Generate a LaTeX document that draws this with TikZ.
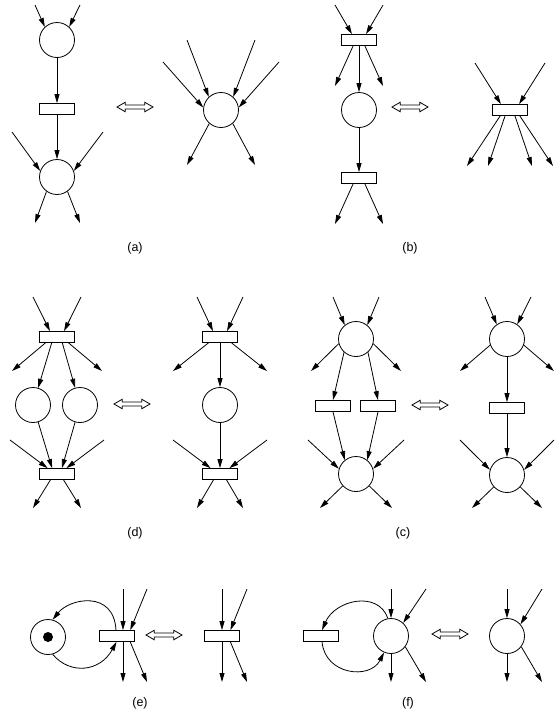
\documentclass[tikz,border=0pt]{standalone}
\usepackage{fontspec}
\setmainfont{Liberation Sans}
\usetikzlibrary{arrows.meta,shapes.arrows}

\begin{document}
\begin{tikzpicture}[x=1pt,y=-1pt,
  place/.style={circle, draw, line width=0.8pt, minimum size=35pt, inner sep=0pt},
  trans/.style={rectangle, draw, line width=0.8pt, minimum width=35pt, minimum height=11pt, inner sep=0pt},
  arc/.style={-{Triangle[length=9pt,width=5pt]}, line width=0.8pt},
  equiv/.style={double arrow, draw, line width=0.8pt, minimum height=36pt, minimum width=9pt, inner sep=1.6pt, double arrow head extend=2.8pt, double arrow tip angle=60},
  lbl/.style={font=\fontsize{12.5}{15}\selectfont}]
\useasboundingbox (0,0) rectangle (555,713);

% (a)
\node[place] (pa1) at (57,40){};
\node[trans] (ta1) at (57,109){};
\node[place] (pa2) at (57,177){};
\coordinate (ia1) at (35,5);
\coordinate (ia2) at (80,5);
\coordinate (ia3) at (12,132);
\coordinate (ia4) at (103,132);
\coordinate (oa1) at (35,223);
\coordinate (oa2) at (80,223);
\draw[arc](ia1) -- (pa1.133);
\draw[arc](ia2) -- (pa1.47);
\draw[arc](pa1) -- (ta1);
\draw[arc](ta1) -- (pa2);
\draw[arc](ia3) -- (pa2.160);
\draw[arc](ia4) -- (pa2.20);
\draw[arc](pa2.234) -- (oa1);
\draw[arc](pa2.-54) -- (oa2);
\node[equiv] (ea) at (135,107){};
\node[place] (pa3) at (221,110){};
\coordinate (ia5) at (187,40);
\coordinate (ia6) at (255,40);
\coordinate (ia7) at (163,62);
\coordinate (ia8) at (279,62);
\coordinate (oa3) at (187,165);
\coordinate (oa4) at (255,165);
\draw[arc](ia5) -- (pa3.133);
\draw[arc](ia6) -- (pa3.47);
\draw[arc](ia7) -- (pa3.172);
\draw[arc](ia8) -- (pa3.8);
\draw[arc](pa3.229) -- (oa3);
\draw[arc](pa3.311) -- (oa4);
\node[lbl] (la) at (135,248){(a)};

% (b)
\node[trans] (tb1) at (359,40){};
\node[place] (pb1) at (359,110){};
\node[trans] (tb2) at (359,178){};
\coordinate (ib1) at (335,5);
\coordinate (ib2) at (383,5);
\coordinate (ob1) at (335,86);
\coordinate (ob2) at (383,86);
\coordinate (ob3) at (335,224);
\coordinate (ob4) at (383,224);
\draw[arc](ib1) -- (tb1.140);
\draw[arc](ib2) -- (tb1.40);
\draw[arc](tb1.225) -- (ob1);
\draw[arc](tb1) -- (pb1);
\draw[arc](tb1.-45) -- (ob2);
\draw[arc](pb1) -- (tb2);
\draw[arc](tb2.225) -- (ob3);
\draw[arc](tb2.-45) -- (ob4);
\node[equiv] (eb) at (410,107){};
\node[trans] (tb3) at (510,110){};
\coordinate (ib3) at (475,63);
\coordinate (ib4) at (545,63);
\coordinate (ob5) at (467,166);
\coordinate (ob6) at (488,166);
\coordinate (ob7) at (532,166);
\coordinate (ob8) at (553,166);
\draw[arc](ib3) -- (tb3.147);
\draw[arc](ib4) -- (tb3.33);
\draw[arc](tb3.211) -- (ob5);
\draw[arc](tb3.230) -- (ob6);
\draw[arc](tb3.310) -- (ob7);
\draw[arc](tb3.329) -- (ob8);
\node[lbl] (lb) at (410,248){(b)};

% (d)
\node[trans] (td1) at (57,337){};
\node[place] (pd1) at (33,405){};
\node[place] (pd2) at (80,405){};
\node[trans] (td2) at (57,474){};
\coordinate (id1) at (33,297);
\coordinate (id2) at (81,297);
\coordinate (id3) at (10,440);
\coordinate (id4) at (104,440);
\coordinate (od1) at (12,371);
\coordinate (od2) at (102,371);
\coordinate (od3) at (33,508);
\coordinate (od4) at (81,508);
\draw[arc](id1) -- (td1.140);
\draw[arc](id2) -- (td1.40);
\draw[arc](td1.207) -- (od1);
\draw[arc](td1.333) -- (od2);
\draw[arc](td1.228) -- (pd1);
\draw[arc](td1.312) -- (pd2);
\draw[arc](pd1) -- (td2.130);
\draw[arc](pd2) -- (td2.50);
\draw[arc](id3) -- (td2.148);
\draw[arc](id4) -- (td2.32);
\draw[arc](td2.222) -- (od3);
\draw[arc](td2.318) -- (od4);
\node[equiv] (ed) at (132,404){};
\node[trans] (td3) at (220,337){};
\node[place] (pd3) at (220,405){};
\node[trans] (td4) at (220,474){};
\coordinate (id5) at (197,297);
\coordinate (id6) at (243,297);
\coordinate (id7) at (173,440);
\coordinate (id8) at (267,440);
\coordinate (od5) at (173,371);
\coordinate (od6) at (267,371);
\coordinate (od7) at (197,508);
\coordinate (od8) at (243,508);
\draw[arc](id5) -- (td3.140);
\draw[arc](id6) -- (td3.40);
\draw[arc](td3.207) -- (od5);
\draw[arc](td3.333) -- (od6);
\draw[arc](td3) -- (pd3);
\draw[arc](pd3) -- (td4);
\draw[arc](id7) -- (td4.148);
\draw[arc](id8) -- (td4.32);
\draw[arc](td4.222) -- (od7);
\draw[arc](td4.318) -- (od8);
\node[lbl] (ld) at (135,533){(d)};

% (c)
\node[place] (pc1) at (356,339){};
\node[trans] (tc1) at (333,406){};
\node[trans] (tc2) at (378,406){};
\node[place] (pc2) at (356,474){};
\coordinate (ic1) at (333,297);
\coordinate (ic2) at (379,297);
\coordinate (ic3) at (308,440);
\coordinate (ic4) at (404,440);
\coordinate (oc1) at (311,371);
\coordinate (oc2) at (401,371);
\coordinate (oc3) at (320,508);
\coordinate (oc4) at (392,508);
\draw[arc](ic1) -- (pc1.129);
\draw[arc](ic2) -- (pc1.51);
\draw[arc](pc1.195) -- (oc1);
\draw[arc](pc1.-15) -- (oc2);
\draw[arc](pc1.228) -- (tc1.north);
\draw[arc](pc1.312) -- (tc2.north);
\draw[arc](tc1.south) -- (pc2.129);
\draw[arc](tc2.south) -- (pc2.51);
\draw[arc](ic3) -- (pc2.163);
\draw[arc](ic4) -- (pc2.17);
\draw[arc](pc2.222) -- (oc3);
\draw[arc](pc2.318) -- (oc4);
\node[equiv] (ec) at (430,405){};
\node[place] (pc3) at (507,339){};
\node[trans] (tc3) at (507,408){};
\node[place] (pc4) at (507,475){};
\coordinate (ic5) at (485,297);
\coordinate (ic6) at (531,297);
\coordinate (ic7) at (460,440);
\coordinate (ic8) at (554,440);
\coordinate (oc5) at (460,371);
\coordinate (oc6) at (554,371);
\coordinate (oc7) at (472,508);
\coordinate (oc8) at (542,508);
\draw[arc](ic5) -- (pc3.125);
\draw[arc](ic6) -- (pc3.55);
\draw[arc](pc3.200) -- (oc5);
\draw[arc](pc3.-20) -- (oc6);
\draw[arc](pc3) -- (tc3);
\draw[arc](tc3) -- (pc4);
\draw[arc](ic7) -- (pc4.163);
\draw[arc](ic8) -- (pc4.17);
\draw[arc](pc4.222) -- (oc7);
\draw[arc](pc4.318) -- (oc8);
\node[lbl] (lc) at (403,533){(c)};

% (e)
\node[place] (pe1) at (48,637){};
\node[circle, fill, minimum size=10pt, inner sep=0pt] (tok) at (pe1){};
\node[trans] (te1) at (117,636){};
\coordinate (ie1) at (123,589);
\coordinate (ie2) at (147,589);
\coordinate (oe1) at (123,682);
\coordinate (oe2) at (147,682);
\draw[arc](ie1) -- (ie1 |- te1.north);
\draw[arc](ie2) -- (te1.24);
\draw[arc](oe1 |- te1.south) -- (oe1);
\draw[arc](te1.-24) -- (oe2);
\draw[arc](te1.100) .. controls (114,590) and (70,598) .. (pe1.75);
\draw[arc](pe1.-75) .. controls (70,675) and (100,672) .. (te1.-95);
\node[equiv] (ee) at (164,635){};
\node[trans] (te2) at (222,636){};
\coordinate (ie3) at (222,589);
\coordinate (ie4) at (247,589);
\coordinate (oe3) at (222,682);
\coordinate (oe4) at (247,682);
\draw[arc](ie3) -- (te2.north);
\draw[arc](ie4) -- (te2.35);
\draw[arc](te2.south) -- (oe3);
\draw[arc](te2.-35) -- (oe4);
\node[lbl] (le) at (140,703){(e)};

% (f)
\node[trans] (tf1) at (321,636){};
\node[place] (pf1) at (391,636){};
\coordinate (if1) at (391,589);
\coordinate (if2) at (426,589);
\coordinate (of1) at (391,682);
\coordinate (of2) at (426,682);
\draw[arc](if1) -- (pf1.north);
\draw[arc](if2) -- (pf1.47);
\draw[arc](pf1.south) -- (of1);
\draw[arc](pf1.-37) -- (of2);
\draw[arc](pf1.100) .. controls (378,590) and (335,600) .. (tf1.80);
\draw[arc](tf1.-80) .. controls (325,675) and (370,680) .. (pf1.247);
\node[equiv] (ef) at (450,634){};
\node[place] (pf2) at (507,636){};
\coordinate (if3) at (507,589);
\coordinate (if4) at (542,589);
\coordinate (of3) at (507,682);
\coordinate (of4) at (542,682);
\draw[arc](if3) -- (pf2.north);
\draw[arc](if4) -- (pf2.41);
\draw[arc](pf2.south) -- (of3);
\draw[arc](pf2.-37) -- (of4);
\node[lbl] (lf) at (408,703){(f)};
\end{tikzpicture}
\end{document}
